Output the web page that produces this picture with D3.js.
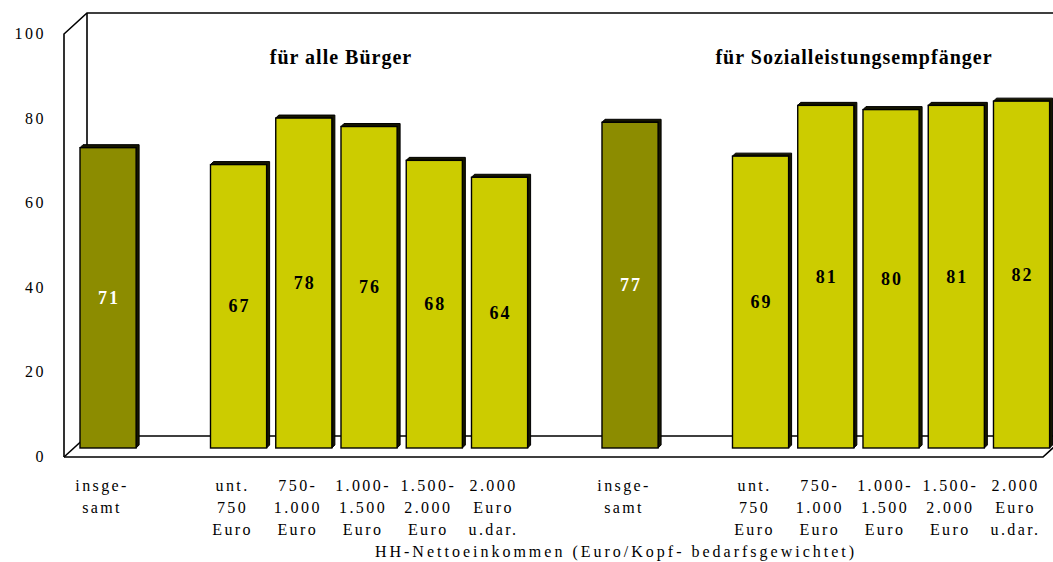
<!DOCTYPE html>
<html>
<head>
<meta charset="utf-8">
<script src="https://cdn.jsdelivr.net/npm/d3@7"></script>
<style>
  body { margin: 0; background: #fff; }
  svg { display: block; font-family: "Liberation Serif", "Times New Roman", serif; }
</style>
</head>
<body>
<div id="chart"></div>
<script>
// income groups (x axis), value shares in percent
const incomeLabels = [
    ["unt.", "750", "Euro"],
    ["750-", "1.000", "Euro"],
    ["1.000-", "1.500", "Euro"],
    ["1.500-", "2.000", "Euro"],
    ["2.000", "Euro", "u.dar."]
];
const totalLabel = ["insge-", "samt"];
const allCitizens = [67, 78, 76, 68, 64];
const allCitizensTotal = 71;
const welfare = [69, 81, 80, 81, 82];
const welfareTotal = 77;
const groupTitles = ["für alle Bürger", "für Sozialleistungsempfänger"];
const yTicks = [0, 20, 40, 60, 80, 100];
const axisTitle = "HH-Nettoeinkommen (Euro/Kopf- bedarfsgewichtet)";

// build the slot list, with empty slots as gaps
const slots = [];
slots.push({ key: "a-tot", value: allCitizensTotal, label: totalLabel, total: true });
slots.push({ key: "gap1" });
allCitizens.forEach((v, i) => slots.push({ key: "a" + i, value: v, label: incomeLabels[i] }));
slots.push({ key: "gap2" });
slots.push({ key: "s-tot", value: welfareTotal, label: totalLabel, total: true });
slots.push({ key: "gap3" });
welfare.forEach((v, i) => slots.push({ key: "s" + i, value: v, label: incomeLabels[i] }));

const width = 1053, height = 562;
const darkColor = "#8c8c00", lightColor = "#cccc00";

const svg = d3.select("#chart").append("svg")
    .attr("width", width)
    .attr("height", height);

// front plane scale (axis) and bar plane scale (slightly set back)
const yFront = d3.scaleLinear().domain([0, 100]).range([457, 34]);
const yBar = d3.scaleLinear().domain([0, 100]).range([448, 25]);
const x = d3.scaleBand()
    .domain(slots.map(d => d.key))
    .range([80, 1049.6])
    .paddingInner(0.14)
    .paddingOuter(0);

const dx = 23, dy = -21; // depth of the box

// box frame
const frame = svg.append("g")
    .attr("fill", "none")
    .attr("stroke", "#000")
    .attr("stroke-width", 1.6);
frame.append("path")
    .attr("d", `M64,${yFront(0)} V${yFront(100)} l${dx},${dy} H${width + 5}`);
frame.append("path")
    .attr("d", `M${64 + dx},${yFront(100) + dy} V${yFront(0) + dy} H${width + 5}`);
frame.append("path")
    .attr("d", `M64,${yFront(0)} l${dx},${dy}`);
frame.append("path")
    .attr("d", `M64,${yFront(0)} H1043 l${dx},${dy}`);

// y tick labels
svg.append("g").selectAll("text")
    .data(yTicks)
    .enter()
    .append("text")
    .attr("x", 46)
    .attr("y", d => yFront(d) + 5)
    .attr("text-anchor", "end")
    .style("font-size", "16px")
    .style("letter-spacing", "2.5px")
    .text(d => d);

// bars
const bars = svg.append("g").selectAll("g")
    .data(slots.filter(d => d.value !== undefined))
    .enter()
    .append("g");

const dep = 3; // small 3d depth of each bar
bars.append("path")
    .attr("d", d => {
        const x0 = x(d.key), x1 = x0 + x.bandwidth(), y0 = yBar(d.value), y1 = yBar(0);
        return `M${x0},${y0} l${dep},${-dep} H${x1 + dep} V${y1 - dep} L${x1},${y1} V${y0} Z`;
    })
    .attr("fill", "#161600")
    .attr("stroke", "#000")
    .attr("stroke-width", 1);

bars.append("rect")
    .attr("x", d => x(d.key))
    .attr("y", d => yBar(d.value))
    .attr("width", x.bandwidth())
    .attr("height", d => yBar(0) - yBar(d.value))
    .attr("fill", d => d.total ? darkColor : lightColor)
    .attr("stroke", "#000")
    .attr("stroke-width", 1.4);

// value labels
bars.append("text")
    .attr("x", d => x(d.key) + x.bandwidth() / 2 + 1)
    .attr("y", d => (yBar(d.value) + yBar(0)) / 2 + 6)
    .attr("text-anchor", "middle")
    .attr("fill", d => d.total ? "#fff" : "#000")
    .style("font-size", "18px")
    .style("font-weight", "bold")
    .style("letter-spacing", "2px")
    .text(d => d.value);

// category labels
const catLabels = svg.append("g").selectAll("text")
    .data(slots.filter(d => d.label))
    .enter()
    .append("text")
    .attr("text-anchor", "middle")
    .style("font-size", "16px")
    .style("letter-spacing", "2.4px");

catLabels.selectAll("tspan")
    .data(d => d.label.map(l => ({ l, key: d.key })))
    .enter()
    .append("tspan")
    .attr("x", d => x(d.key) + x.bandwidth() / 2 - 6)
    .attr("y", (d, i) => 491 + i * 22)
    .text(d => d.l);

// group titles
const titleX = [341, 854];
svg.append("g").selectAll("text")
    .data(groupTitles)
    .enter()
    .append("text")
    .attr("x", (d, i) => titleX[i])
    .attr("y", 64)
    .attr("text-anchor", "middle")
    .style("font-size", "20px")
    .style("font-weight", "bold")
    .style("letter-spacing", "1px")
    .text(d => d);

// axis title
svg.append("text")
    .attr("x", 616)
    .attr("y", 557)
    .attr("text-anchor", "middle")
    .style("font-size", "16px")
    .style("letter-spacing", "3px")
    .text(axisTitle);
</script>
</body>
</html>
